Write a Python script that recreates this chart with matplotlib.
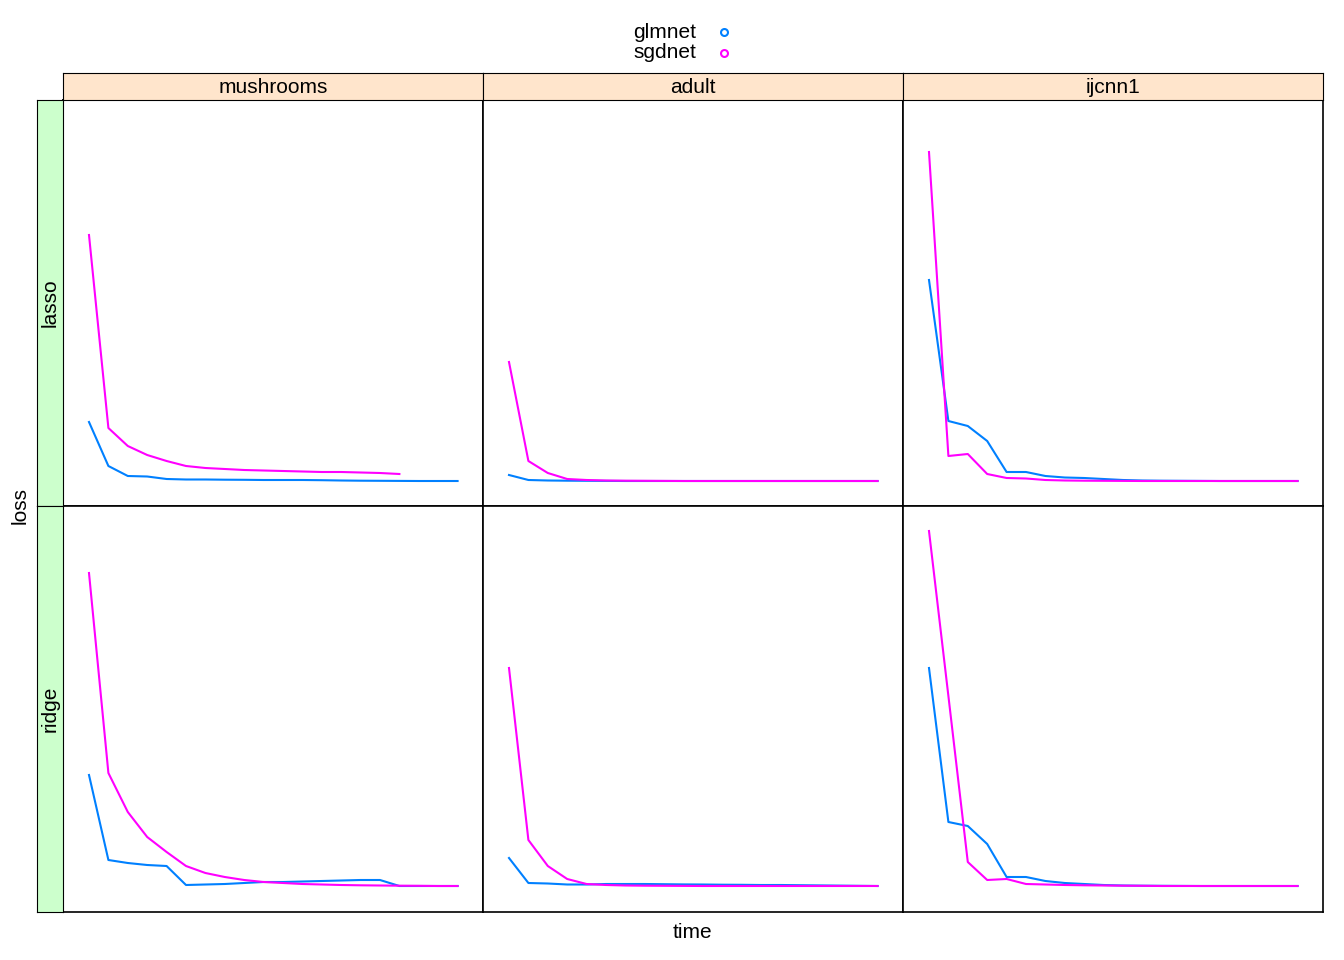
import matplotlib
matplotlib.use("Agg")
import matplotlib.pyplot as plt
from matplotlib.lines import Line2D
from matplotlib.patches import Rectangle

W, H = 1344, 960
BLUE = "#0080ff"
MAGENTA = "#ff00ff"

datasets = ["mushrooms", "adult", "ijcnn1"]
penalties = ["lasso", "ridge"]

# loss values (arbitrary units), time in steps
loss = {
    ("lasso", "mushrooms", "sgdnet"): [271, 78, 60, 51, 45, 40, 38, 37, 36, 35.5, 35, 34.5, 34, 34, 33.5, 33, 32],
    ("lasso", "mushrooms", "glmnet"): [84, 40, 30, 29.5, 27, 26.5, 26.5, 26.3, 26.2, 26, 26, 26, 25.8, 25.5, 25.3, 25.2, 25.1, 25, 25, 25],
    ("ridge", "mushrooms", "sgdnet"): [339, 139, 100, 75, 60, 46, 39, 35, 32, 30, 29, 28, 27.5, 27, 26.7, 26.5, 26.3, 26.2, 26, 26],
    ("ridge", "mushrooms", "glmnet"): [137, 52, 49, 47, 46, 27, 27.5, 28, 29, 30, 30, 30.5, 31, 31.5, 32, 32, 26, 26, 26, 26],
    ("lasso", "adult", "sgdnet"): [144, 45, 33, 27, 26, 25.5, 25.3, 25.2, 25.1, 25, 25, 25, 25, 25, 25, 25, 25, 25, 25, 25],
    ("lasso", "adult", "glmnet"): [31, 26, 25.5, 25.3, 25.2, 25.1, 25, 25, 25, 25, 25, 25, 25, 25, 25, 25, 25, 25, 25, 25],
    ("ridge", "adult", "sgdnet"): [244, 72, 46, 33, 28, 27, 26.5, 26.3, 26.2, 26.1, 26, 26, 26, 26, 26, 26, 26, 26, 26, 26],
    ("ridge", "adult", "glmnet"): [54, 29, 28.5, 27.5, 27.5, 28, 28, 28, 27.8, 27.6, 27.5, 27.3, 27.2, 27, 27, 26.8, 26.6, 26.4, 26.2, 26],
    ("lasso", "ijcnn1", "sgdnet"): [354, 50, 52, 32, 28, 27.5, 26, 25.5, 25.3, 25.2, 25.1, 25, 25, 25, 25, 25, 25, 25, 25, 25],
    ("lasso", "ijcnn1", "glmnet"): [226, 85, 80, 65, 34, 34, 30, 28.5, 28, 27, 26, 25.5, 25.3, 25.2, 25.1, 25, 25, 25, 25, 25],
    ("ridge", "ijcnn1", "sgdnet"): [381, 216, 50, 32, 33, 28, 27.5, 27, 26.7, 26.5, 26.3, 26.2, 26, 26, 26, 26, 26, 26, 26, 26],
    ("ridge", "ijcnn1", "glmnet"): [244, 90, 86, 68, 35, 35, 31, 29, 28, 27, 26.5, 26.3, 26.2, 26.1, 26, 26, 26, 26, 26, 26],
}


def ax_px(x0, y0, x1, y1):
    return fig.add_axes([x0 / W, (H - y1) / H, (x1 - x0) / W, (y1 - y0) / H])


fig = plt.figure(figsize=(W / 100, H / 100), dpi=100)
plt.rcParams["font.family"] = "Liberation Sans"

col_x = [63, 483, 903, 1323]
row_y = [100, 506, 912]

for r, pen in enumerate(penalties):
    for c, ds in enumerate(datasets):
        ax = ax_px(col_x[c], row_y[r], col_x[c + 1], row_y[r + 1])
        for solver, color in [("glmnet", BLUE), ("sgdnet", MAGENTA)]:
            y = loss[(pen, ds, solver)]
            ax.plot(range(len(y)), y, color=color, lw=1.5)
        ax.set_xlim(-1.34, 20.31)
        ax.set_ylim(0, 406)
        ax.set_xticks([])
        ax.set_yticks([])
        for s in ax.spines.values():
            s.set_linewidth(1.2)

# top strips
for c, ds in enumerate(datasets):
    sax = ax_px(col_x[c], 73, col_x[c + 1], 100)
    sax.set_facecolor("#ffe5cc")
    sax.set_xticks([])
    sax.set_yticks([])
    sax.text(0.5, 0.45, ds, ha="center", va="center", fontsize=15, transform=sax.transAxes)

# left strips
for r, pen in enumerate(penalties):
    sax = ax_px(37, row_y[r], 63, row_y[r + 1])
    sax.set_facecolor("#ccffcc")
    sax.set_xticks([])
    sax.set_yticks([])
    sax.text(0.5, 0.5, pen, ha="center", va="center", rotation=90, fontsize=15,
             transform=sax.transAxes)

fig.text(692 / W, 1 - 932 / H, "time", ha="center", va="center", fontsize=15)
fig.text(20 / W, 1 - 506 / H, "loss", ha="center", va="center", rotation=90, fontsize=15)

# legend
for i, (name, color) in enumerate([("glmnet", BLUE), ("sgdnet", MAGENTA)]):
    yy = 1 - (32 + 21 * i) / H
    fig.text(696 / W, yy, name, ha="right", va="center", fontsize=15)
    fig.add_artist(Line2D([724 / W], [yy], marker="o", markersize=5, mfc="none",
                          mec=color, mew=1.5, transform=fig.transFigure))

fig.savefig("out.png", dpi=100)
